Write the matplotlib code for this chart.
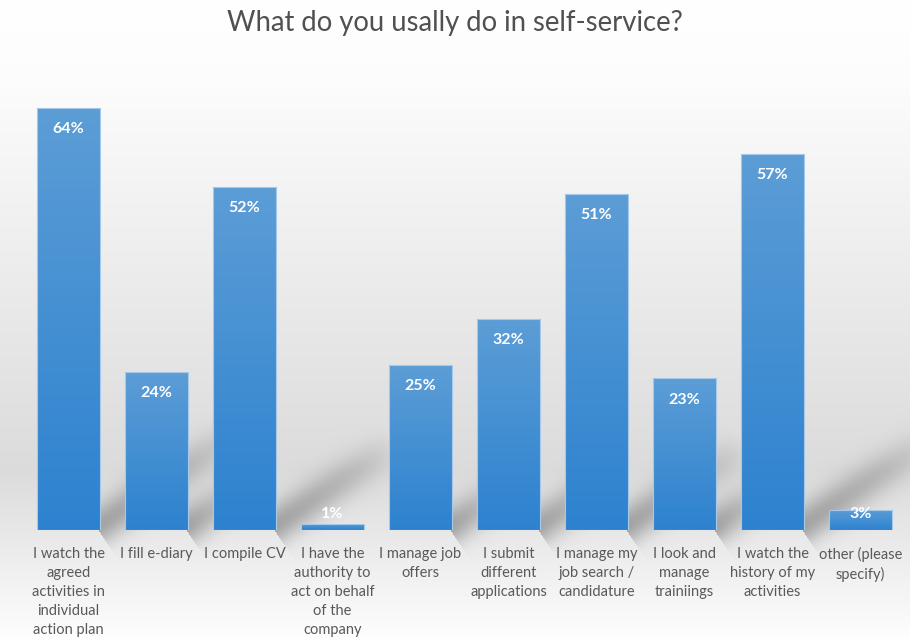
import numpy as np
import matplotlib.pyplot as plt
from matplotlib.colors import LinearSegmentedColormap

plt.rcParams['font.family'] = ['Lato', 'DejaVu Sans']

title = "What do you usally do in self-service?"
categories = [
    "I watch the\nagreed\nactivities in\nindividual\naction plan",
    "I fill e-diary",
    "I compile CV",
    "I have the\nauthority to\nact on behalf\nof the\ncompany",
    "I manage job\noffers",
    "I submit\ndifferent\napplications",
    "I manage my\njob search /\ncandidature",
    "I look and\nmanage\ntrainiings",
    "I watch the\nhistory of my\nactivities",
    "other (please\nspecify)",
]
values = [64, 24, 52, 1, 25, 32, 51, 23, 57, 3]

W, H = 910, 641
fig = plt.figure(figsize=(W / 100, H / 100), dpi=100)
fig.patch.set_facecolor('white')

ax = fig.add_axes([0.027, 0.173, 0.967, 0.72])
ax.set_xlim(-0.5, len(values) - 0.5)
ax.set_ylim(0, 70)
ax.patch.set_alpha(0)
ax.set_zorder(2)

x = np.arange(len(values))
bar_w = 0.72
bars = ax.bar(x, values, width=bar_w, color='none', edgecolor='#a6c8ea',
              linewidth=0.8, zorder=3)

# vertical gradient inside each bar, lighter at the top
blues = LinearSegmentedColormap.from_list('bars', ['#2d82cf', '#5c9dd6'])
grad = np.linspace(0, 1, 256).reshape(-1, 1)
for b in bars:
    im = ax.imshow(grad, extent=[b.get_x(), b.get_x() + b.get_width(), 0, b.get_height()],
                   origin='lower', aspect='auto', cmap=blues, zorder=2)
    im.set_clip_path(b)
ax.set_xlim(-0.5, len(values) - 0.5)
ax.set_ylim(0, 70)

for xi, v in zip(x, values):
    ax.text(xi, max(v - 3.2, 2.5), f"{v}%", ha='center', va='center',
            color='white', fontsize=11.5, fontweight='bold', zorder=4)

ax.set_xticks(x)
ax.set_xticklabels(categories, fontsize=10.5, color='#595959', linespacing=1.45)
ax.tick_params(axis='x', length=0, pad=12)
ax.set_yticks([])
for s in ax.spines.values():
    s.set_visible(False)

fig.text(0.5, 1 - 23 / H, title, ha='center', va='center', fontsize=19.8, color='#505050')

# background: soft grey band with diagonal shadows cast by the bars
fig.canvas.draw()
yy, xx = np.mgrid[0:H, 0:W].astype(float)
shade = np.interp(yy, [0, 80, 470, 620, H], [1.0, 0.99, 0.86, 0.98, 1.0])
ang = np.deg2rad(34)
d = np.array([np.cos(ang), -np.sin(ang)])
for b in bars:
    pts = ax.transData.transform([(b.get_x() + b.get_width(), 0),
                                  (b.get_x() + b.get_width(), b.get_height())])
    xr = pts[0, 0]
    row0 = H - pts[0, 1] - 6
    hpx = pts[1, 1] - pts[0, 1]
    if hpx < 30:
        continue
    L = 0.42 * hpx
    px, py = xx - xr, yy - row0
    t = px * d[0] + py * d[1]
    perp = np.abs(-px * d[1] + py * d[0])
    along = np.clip(1 - t / L, 0, 1) ** 0.7 * (t > -5)
    shade = shade - 0.26 * np.exp(-perp ** 2 / (2 * 13 ** 2)) * along
shade = np.clip(shade, 0, 1)
bg = fig.add_axes([0, 0, 1, 1], zorder=0)
bg.imshow(np.dstack([shade] * 3), extent=[0, W, H, 0], aspect='auto',
          interpolation='bilinear')
bg.axis('off')

fig.savefig('out.png', dpi=100)
